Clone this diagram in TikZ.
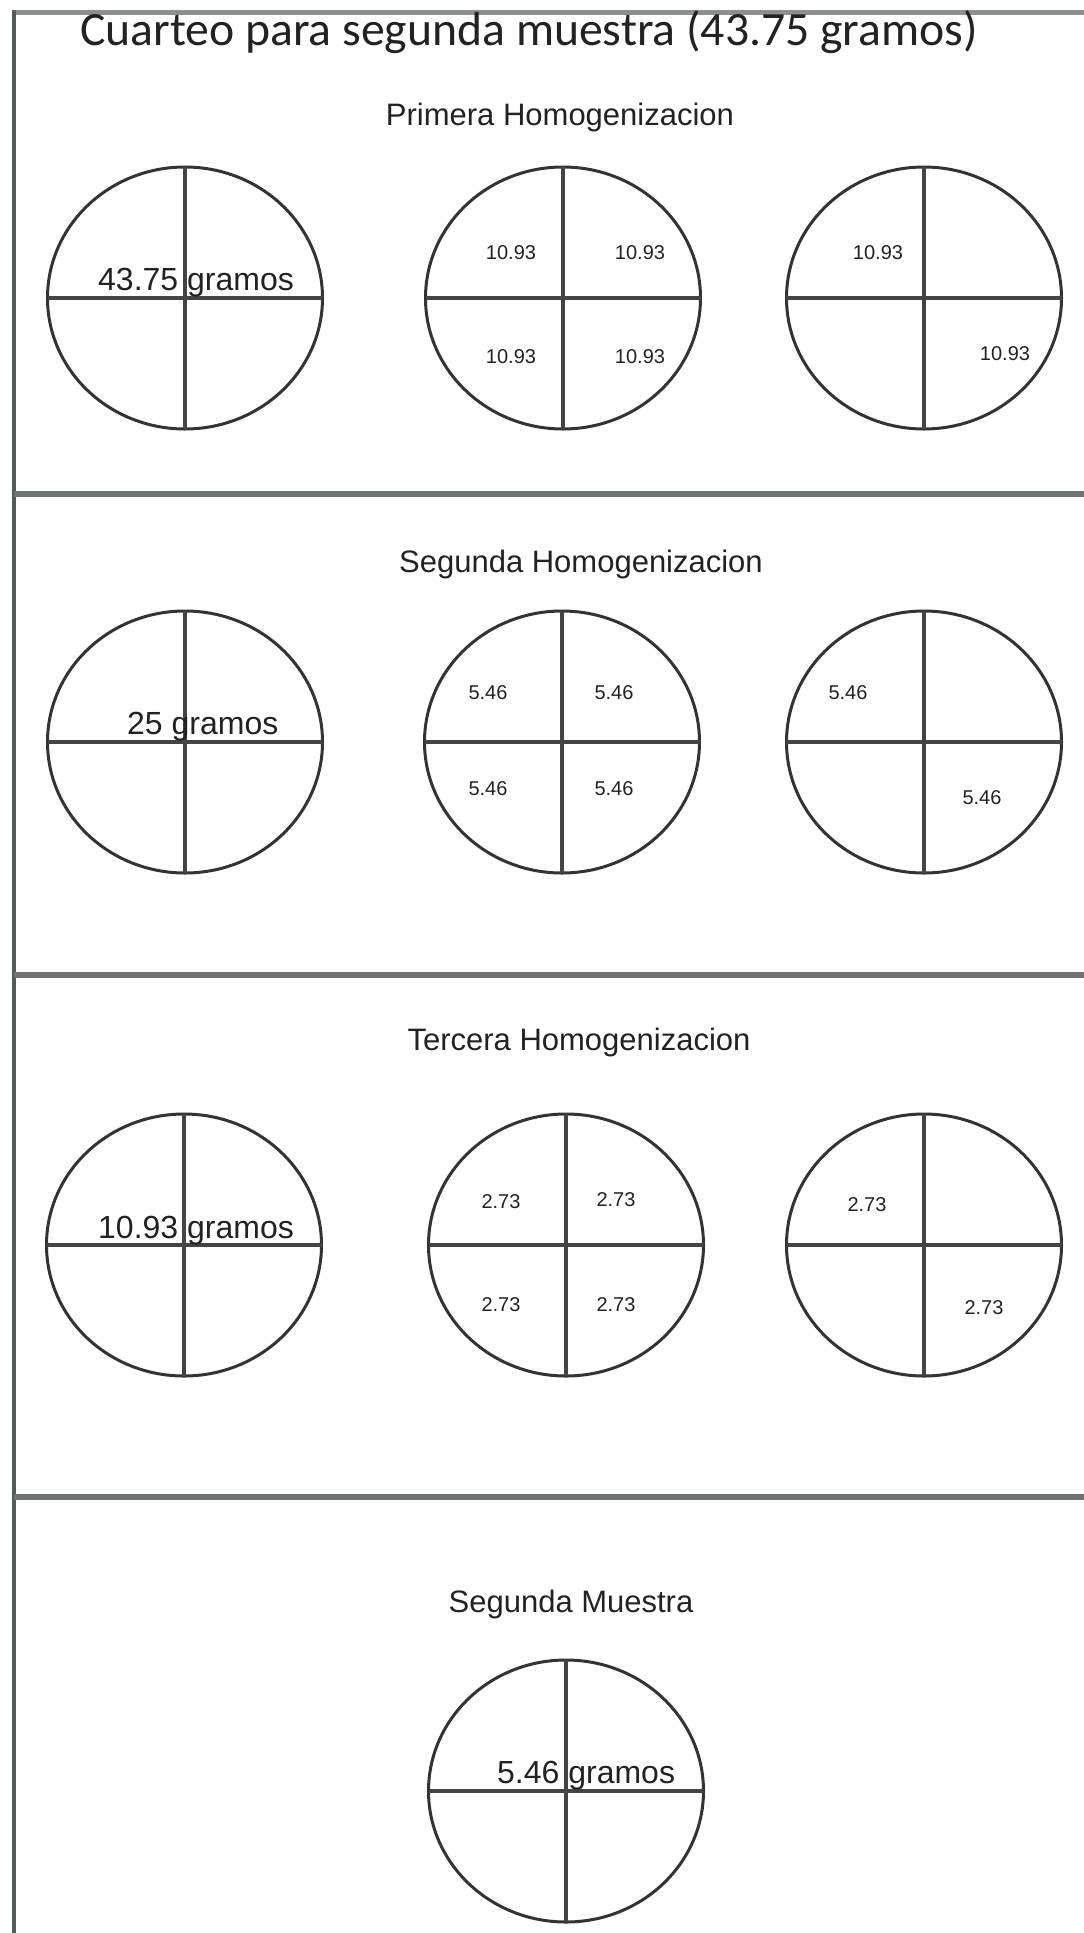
\documentclass[tikz,border=0pt]{standalone}
\usepackage{fontspec}
\setmainfont{Liberation Sans}
\newfontfamily\titlefont{Carlito}
\usetikzlibrary{shapes.geometric}

\definecolor{ink}{HTML}{222222}
\definecolor{rim}{HTML}{333333}
\definecolor{cross}{HTML}{444444}
\definecolor{rule}{HTML}{6F7373}
\definecolor{frameline}{HTML}{555A5A}

\tikzset{
  plate/.style={ellipse, draw=rim, line width=3pt, minimum width=275pt,
    minimum height=262pt, inner sep=0pt, outer sep=0pt},
  cutline/.style={draw=cross, line width=3.5pt},
  heading/.style={text=ink, font=\fontsize{31}{37}\selectfont, inner sep=0pt, anchor=base},
  mass/.style={text=ink, font=\fontsize{32}{38}\selectfont, inner sep=0pt, anchor=base west},
  part/.style={text=ink, font=\fontsize{20}{24}\selectfont, inner sep=0pt},
  divider/.style={draw=rule, line width=6pt},
}

% a plate cut into four quarters
\newcommand\quartered[2]{%
  \node[plate] (#1) at (#2) {};
  \draw[cutline] (#1.north) -- (#1.south);
  \draw[cutline, line width=4.5pt] (#1.west) -- (#1.east);
}

\begin{document}
\begin{tikzpicture}[x=1pt, y=-1pt]
\useasboundingbox (0,0) rectangle (1084,1933);
\fill[white] (0,0) rectangle (1084,1933);

% outer frame (top and left) and section rules
\draw[draw=rule!80!white, line width=5pt] (12,12) -- (1084,12);
\draw[draw=frameline, line width=4pt] (14,10) -- (14,1933);
\draw[divider] (14,494) -- (1084,494);
\draw[divider] (14,975) -- (1084,975);
\draw[divider] (14,1497) -- (1084,1497);

% title
\node[text=ink, font=\titlefont\fontsize{47.7}{56}\selectfont, inner sep=0pt,
  anchor=base west] (title) at (80,45) {Cuarteo para segunda muestra (43.75 gramos)};

% first stage
\node[heading] (h1) at (560,125) {Primera Homogenizacion};
\quartered{a1}{185,298}
\quartered{a2}{563,298}
\quartered{a3}{924,298}
\node[mass] (m1) at (98,290) {43.75 gramos};
\node[part] (a2tl) at (511,253) {10.93};
\node[part] (a2tr) at (640,253) {10.93};
\node[part] (a2bl) at (511,357) {10.93};
\node[part] (a2br) at (640,357) {10.93};
\node[part] (a3tl) at (878,253) {10.93};
\node[part] (a3br) at (1005,354) {10.93};

% second stage
\node[heading] (h2) at (581,572) {Segunda Homogenizacion};
\quartered{b1}{185,742}
\quartered{b2}{562,742}
\quartered{b3}{924,742}
\node[mass] (m2) at (127,734) {25 gramos};
\node[part] (b2tl) at (488,693) {5.46};
\node[part] (b2tr) at (614,693) {5.46};
\node[part] (b2bl) at (488,789) {5.46};
\node[part] (b2br) at (614,789) {5.46};
\node[part] (b3tl) at (848,693) {5.46};
\node[part] (b3br) at (982,798) {5.46};

% third stage
\node[heading] (h3) at (579,1050) {Tercera Homogenizacion};
\quartered{c1}{184,1245}
\quartered{c2}{566,1245}
\quartered{c3}{924,1245}
\node[mass] (m3) at (98,1238) {10.93 gramos};
\node[part] (c2tl) at (501,1202) {2.73};
\node[part] (c2tr) at (616,1200) {2.73};
\node[part] (c2bl) at (501,1305) {2.73};
\node[part] (c2br) at (616,1305) {2.73};
\node[part] (c3tl) at (867,1205) {2.73};
\node[part] (c3br) at (984,1308) {2.73};

% final sample
\node[heading] (h4) at (571,1612) {Segunda Muestra};
\quartered{d1}{566,1791}
\node[mass] (m4) at (497,1783) {5.46 gramos};
\end{tikzpicture}
\end{document}
